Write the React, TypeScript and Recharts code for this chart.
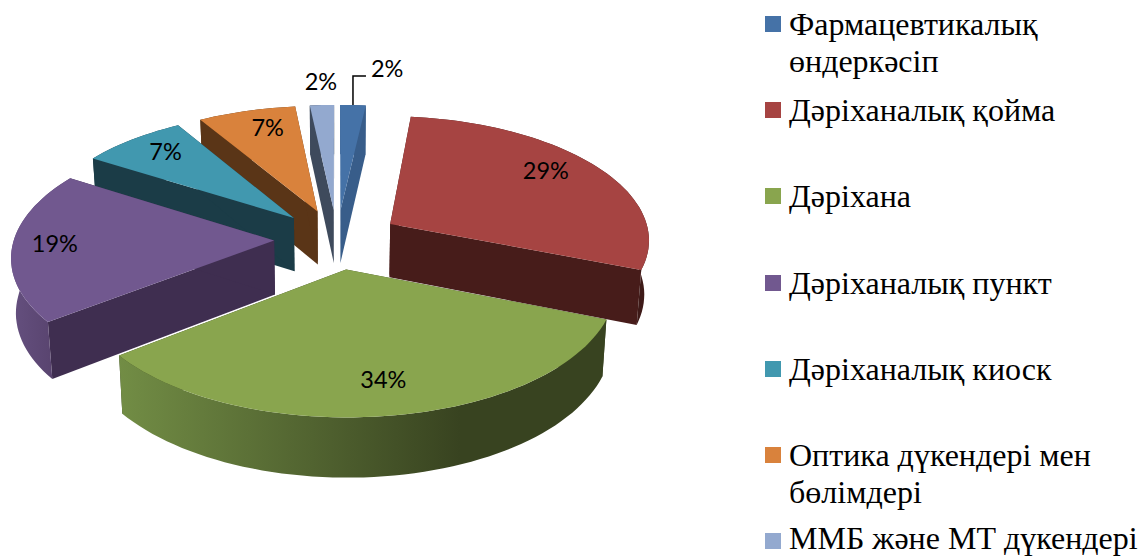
import React from 'react';
import { PieChart, Pie, Legend } from 'recharts';

const categories = [
  'Фармацевтикалық өндеркәсіп',
  'Дәріханалық қойма',
  'Дәріхана',
  'Дәріханалық пункт',
  'Дәріханалық киоск',
  'Оптика дүкендері мен бөлімдері',
  'ММБ және МТ дүкендері',
];
const shares = [1.8, 29.2, 33.5, 19.45, 7.45, 6.9, 1.7];
const topColors = ['#4572A7', '#A64442', '#89A54E', '#71588F', '#4198AF', '#D9823C', '#93A9CF'];
const faceColors = ['#385D8A', '#471C1A', '#384320', '#3F2E50', '#1B3C47', '#5A3517', '#3E4A5C'];
const rimStops = [
  ['#385D8A', '#385D8A'],
  ['#471C1A', '#3E1A18'],
  ['#728D45', '#384320'],
  ['#65507F', '#58436E'],
  ['#1B3C47', '#1B3C47'],
  ['#5A3517', '#5A3517'],
  ['#3E4A5C', '#3E4A5C'],
];
// label tweaks in px, the value labels do not sit exactly on the slice middle
const labelNudges = [
  [0, 0],
  [-10, -4],
  [3, -1],
  [-10, 1],
  [3, 0],
  [8, 1],
  [0, 0],
];
// back to front
const paintOrder = [5, 4, 3, 6, 0, 1, 2];

const tableData = categories.map((name, i) => ({ name, value: shares[i], fill: topColors[i] }));

// 3D look of the pie
const TILT = 0.4746;
const PERSPECTIVE = 0.115;
const EXPLODE = 0.242;
const LABEL_RADIUS = 0.8;

type Vec = [number, number];

const project = (u: number, v: number, cx: number, cy: number, r: number): Vec => {
  const s = 1 / (1 + PERSPECTIVE * v);
  return [cx + r * u * s, cy - r * TILT * v * s];
};

const lower = (p: Vec, cx: number, cy: number): Vec => [
  cx + (p[0] - cx) * 0.985,
  p[1] + 54 + (p[1] - cy) * 0.035,
];

const toPath = (pts: Vec[]) =>
  'M' + pts.map((p) => `${p[0].toFixed(1)},${p[1].toFixed(1)}`).join('L') + 'Z';

const Slice = (props: any) => {
  const { cx, cy, outerRadius, startAngle, endAngle, midAngle, index } = props;
  const mid = (midAngle * Math.PI) / 180;
  const ox = EXPLODE * Math.cos(mid);
  const oy = EXPLODE * Math.sin(mid);
  const apex = project(ox, oy, cx, cy, outerRadius);
  const rim: Vec[] = [];
  const steps = Math.max(2, Math.ceil(Math.abs(endAngle - startAngle) / 2));
  for (let i = 0; i <= steps; i++) {
    const a = ((startAngle + ((endAngle - startAngle) * i) / steps) * Math.PI) / 180;
    rim.push(project(ox + Math.cos(a), oy + Math.sin(a), cx, cy, outerRadius));
  }
  const low = (p: Vec) => lower(p, cx, cy);
  const first = rim[0];
  const last = rim[rim.length - 1];
  const gradId = `rim-${index}`;
  return (
    <g>
      <defs>
        <linearGradient id={gradId} x1="0" y1="0" x2="1" y2="0">
          <stop offset="0" stopColor={rimStops[index][0]} />
          <stop offset="0.7" stopColor={rimStops[index][1]} />
        </linearGradient>
      </defs>
      <path d={toPath([apex, first, low(first), low(apex)])} fill={faceColors[index]} />
      <path d={toPath([apex, last, low(last), low(apex)])} fill={faceColors[index]} />
      <path d={toPath([...rim, ...rim.map(low).reverse()])} fill={`url(#${gradId})`} />
      <path d={toPath([apex, ...rim])} fill={topColors[index]} />
    </g>
  );
};

const renderLabel = (props: any) => {
  const { cx, cy, outerRadius, midAngle, percent, index } = props;
  const mid = (midAngle * Math.PI) / 180;
  const ox = EXPLODE * Math.cos(mid);
  const oy = EXPLODE * Math.sin(mid);
  const text = `${Math.round(percent * 100)}%`;
  const style = { fontFamily: 'Lato', fontSize: 23.5, fill: '#000' };
  if (percent < 0.03) {
    const [rx, ry] = project(ox + Math.cos(mid), oy + Math.sin(mid), cx, cy, outerRadius);
    if (index === 0) {
      return (
        <g>
          <path d={`M${rx},${ry}V${ry - 29}H${rx + 13}`} fill="none" stroke="#000" strokeWidth={1.5} />
          <text x={rx + 18} y={ry - 34} dominantBaseline="middle" style={style}>
            {text}
          </text>
        </g>
      );
    }
    return (
      <text x={rx - 1} y={ry - 21} textAnchor="middle" dominantBaseline="middle" style={style}>
        {text}
      </text>
    );
  }
  const [x, y] = project(
    ox + LABEL_RADIUS * Math.cos(mid),
    oy + LABEL_RADIUS * Math.sin(mid),
    cx,
    cy,
    outerRadius,
  );
  return (
    <text
      x={x + labelNudges[index][0]}
      y={y + labelNudges[index][1]}
      textAnchor="middle"
      dominantBaseline="middle"
      style={style}
    >
      {text}
    </text>
  );
};

const LegendContent = () => (
  <div style={{ position: 'relative', width: 376, height: 556, fontFamily: 'Liberation Serif', color: '#000' }}>
    {categories.map((name, i) => (
      <div key={name} style={{ position: 'absolute', left: 0, top: 16 + i * 86.2 - 9, display: 'flex' }}>
        <span
          style={{
            width: 16,
            height: 16,
            marginTop: 9,
            marginRight: 8,
            flex: 'none',
            background: topColors[i],
          }}
        />
        {/* last row sits right on the bottom edge, pulled up so the descenders stay in */}
        <span
          style={{
            width: 352,
            fontSize: 32,
            lineHeight: '37px',
            marginTop: i === categories.length - 1 ? -4 : -1,
          }}
        >
          {name}
        </span>
      </div>
    ))}
  </div>
);

export default function App() {
  return (
    <div style={{ position: 'absolute', left: 0, top: 0, width: 1141, height: 556, overflow: 'hidden' }}>
      <PieChart width={1141} height={556} margin={{ top: 0, right: 0, bottom: 0, left: 0 }}>
        {paintOrder.map((layer, n) => (
          <Pie
            key={layer}
            data={tableData}
            dataKey="value"
            nameKey="name"
            cx={337}
            cy={239}
            innerRadius={0}
            outerRadius={260}
            startAngle={90}
            endAngle={-270}
            stroke="none"
            isAnimationActive={false}
            legendType={n === 0 ? 'square' : 'none'}
            labelLine={false}
            label={n === paintOrder.length - 1 ? renderLabel : false}
            shape={(p: any) => (p.index === layer ? <Slice {...p} /> : <g />)}
          />
        ))}
        <Legend
          content={<LegendContent />}
          wrapperStyle={{ position: 'absolute', left: 765, top: 0, width: 376, height: 556 }}
        />
      </PieChart>
    </div>
  );
}
